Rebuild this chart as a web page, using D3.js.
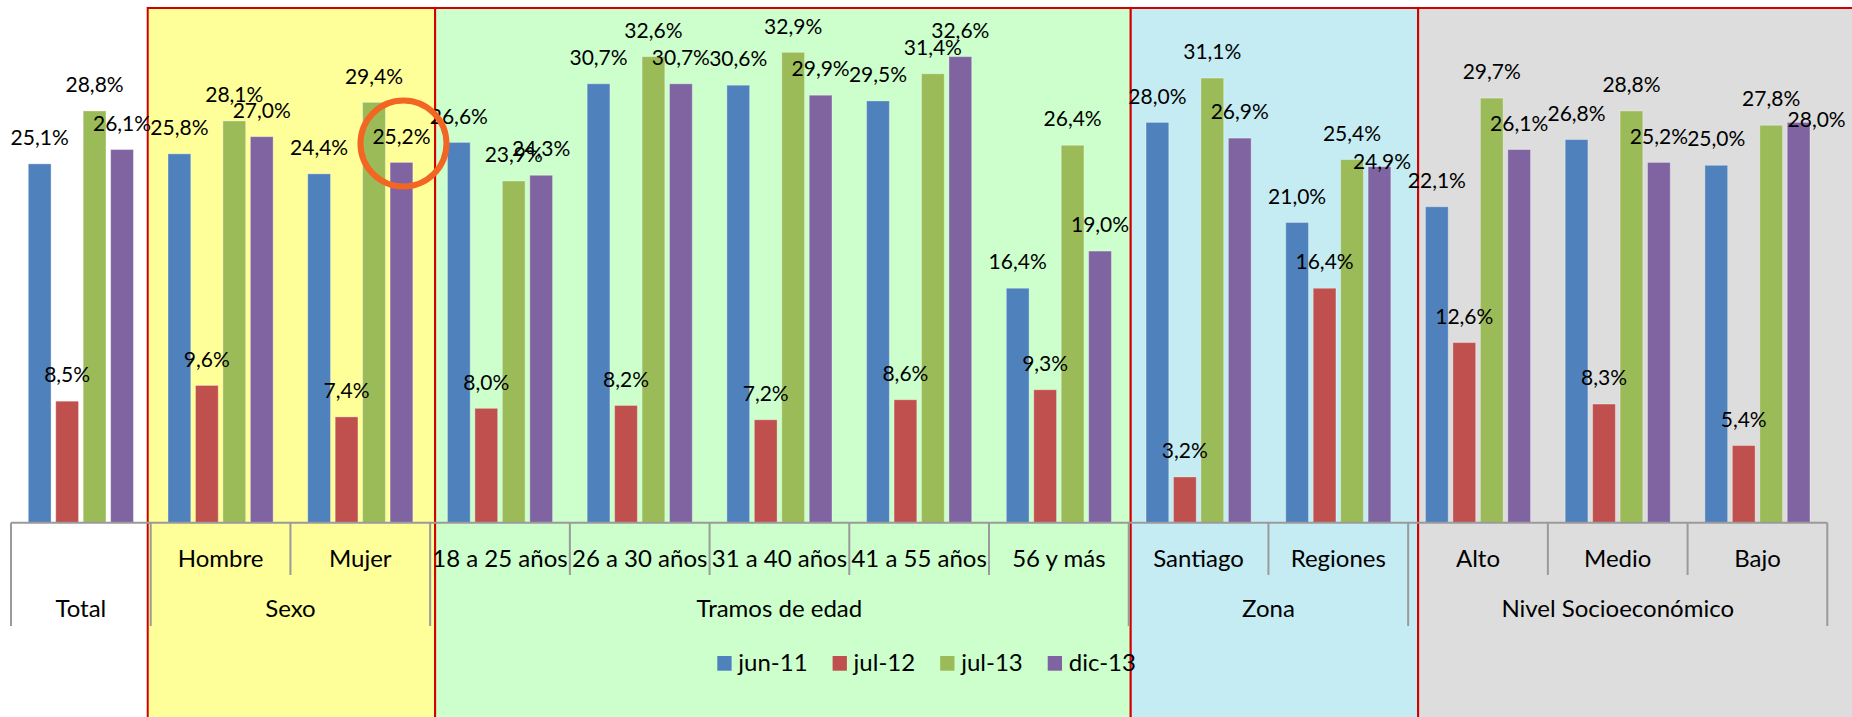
<!doctype html>
<html lang="es">
<head>
<meta charset="utf-8" />
<title>Resultados por segmento</title>
<script src="https://cdn.jsdelivr.net/npm/d3@7"></script>
<style>
	body { margin: 0; background: #fff; }
	svg { display: block; }
	text { font-family: Lato, "Open Sans", sans-serif; fill: #000; }
</style>
</head>
<body>
<script>
var w = 1852;
var h = 717;

// eje de categorias (nivel 1) y sus agrupaciones (nivel 2)
var categories = ["Total", "Hombre", "Mujer", "18 a 25 años", "26 a 30 años", "31 a 40 años", "41 a 55 años", "56 y más", "Santiago", "Regiones", "Alto", "Medio", "Bajo"];
var groupNames = ["Total", "Sexo", "Tramos de edad", "Zona", "Nivel Socioeconómico"];
var groupSizes = [1, 2, 5, 2, 3];

// series (porcentajes)
var seriesNames = ["jun-11", "jul-12", "jul-13", "dic-13"];
var jun11 = [25.1, 25.8, 24.4, 26.6, 30.7, 30.6, 29.5, 16.4, 28.0, 21.0, 22.1, 26.8, 25.0];
var jul12 = [8.5, 9.6, 7.4, 8.0, 8.2, 7.2, 8.6, 9.3, 3.2, 16.4, 12.6, 8.3, 5.4];
var jul13 = [28.8, 28.1, 29.4, 23.9, 32.6, 32.9, 31.4, 26.4, 31.1, 25.4, 29.7, 28.8, 27.8];
var dic13 = [26.1, 27.0, 25.2, 24.3, 30.7, 29.9, 32.6, 19.0, 26.9, 24.9, 26.1, 25.2, 28.0];

var colors = ["#4F81BD", "#C0504D", "#9BBB59", "#8064A2"];

// fondos de color detras de cada grupo (dx = corrimiento del borde a mano)
var panels = [
	{ from: 1, to: 2, fill: "#FFFF99", dx0: -3, dx1: 5 },
	{ from: 3, to: 7, fill: "#CCFFCC", dx0: 5, dx1: 2 },
	{ from: 8, to: 9, fill: "#C5ECF2", dx0: 2, dx1: 10 },
	{ from: 10, to: 12, fill: "#DDDDDD", dx0: 10, dx1: null }
];

// etiquetas que en el original quedaron movidas
var labelNudges = [
	{ cat: 9, s: 3, dx: 2.5, dy: 21.3 },
	{ cat: 12, s: 3, dx: 18, dy: 23.6 }
];

var allSeries = [jun11, jul12, jul13, dic13];
var rows = [];
categories.forEach(function(c, i) {
	allSeries.forEach(function(arr, s) {
		rows.push({ cat: c, ci: i, s: s, value: arr[i] });
	});
});

var fmt = function(v) { return d3.format(".1f")(v).replace(".", ",") + "%"; };

var baseY = 522.7;
var x0 = d3.scaleBand().domain(categories).range([11, 1827.3]).padding(0);
var x1 = d3.scaleBand().domain(seriesNames).range([0, x0.bandwidth()])
	.paddingInner(0.17).paddingOuter(0.63);
var y = d3.scaleLinear().domain([0, 36]).range([baseY, 8]);

var svg = d3.select("body").append("svg")
	.attr("width", w)
	.attr("height", h);

// paneles de fondo
svg.selectAll("rect.panel")
	.data(panels)
	.enter()
	.append("rect")
	.attr("class", "panel")
	.attr("x", function(d) { return x0(categories[d.from]) + d.dx0; })
	.attr("y", 8)
	.attr("width", function(d) {
		var left = x0(categories[d.from]) + d.dx0;
		var right = d.dx1 === null ? w + 4 : x0(categories[d.to]) + x0.bandwidth() + d.dx1;
		return right - left;
	})
	.attr("height", h)
	.attr("fill", function(d) { return d.fill; })
	.attr("stroke", "#D20000")
	.attr("stroke-width", 2);

// barras
svg.selectAll("rect.bar")
	.data(rows)
	.enter()
	.append("rect")
	.attr("class", "bar")
	.attr("x", function(d) { return x0(d.cat) + x1(seriesNames[d.s]); })
	.attr("y", function(d) { return y(d.value); })
	.attr("width", x1.bandwidth())
	.attr("height", function(d) { return baseY - y(d.value); })
	.attr("fill", function(d) { return colors[d.s]; })
	.attr("stroke", "rgba(255,255,255,0.35)")
	.attr("stroke-width", 1);

// eje horizontal
svg.append("line")
	.attr("x1", x0.range()[0]).attr("x2", x0.range()[1])
	.attr("y1", baseY).attr("y2", baseY)
	.attr("stroke", "#9a9a9a")
	.attr("stroke-width", 2);

// marcas: todas bajan hasta el nivel 1, las de grupo hasta el nivel 2
var groupEdges = [0];
groupSizes.forEach(function(n, g) { groupEdges.push(groupEdges[g] + n); });
var edges = d3.range(categories.length + 1);
svg.selectAll("line.tick")
	.data(edges)
	.enter()
	.append("line")
	.attr("class", "tick")
	.attr("x1", function(k) { return x0.range()[0] + k * x0.step(); })
	.attr("x2", function(k) { return x0.range()[0] + k * x0.step(); })
	.attr("y1", baseY)
	.attr("y2", function(k) { return groupEdges.indexOf(k) >= 0 ? 626 : 575; })
	.attr("stroke", "#9a9a9a")
	.attr("stroke-width", 2);

// etiquetas nivel 1 (Total no tiene)
var groupOf = [];
groupSizes.forEach(function(n, g) { for (var i = 0; i < n; i++) groupOf.push(g); });
svg.selectAll("text.cat")
	.data(categories.filter(function(c, i) { return groupSizes[groupOf[i]] > 1; }))
	.enter()
	.append("text")
	.attr("class", "cat")
	.attr("x", function(d) { return x0(d) + x0.bandwidth() / 2; })
	.attr("y", 566.7)
	.attr("text-anchor", "middle")
	.attr("font-size", "24px")
	.text(function(d) { return d; });

// etiquetas nivel 2
svg.selectAll("text.group")
	.data(groupNames)
	.enter()
	.append("text")
	.attr("class", "group")
	.attr("x", function(d, g) {
		var a = groupEdges[g], b = groupEdges[g + 1];
		return x0.range()[0] + (a + b) / 2 * x0.step();
	})
	.attr("y", 617)
	.attr("text-anchor", "middle")
	.attr("font-size", "24px")
	.text(function(d) { return d; });

// etiquetas de datos
var nudge = function(d) {
	var n = labelNudges.filter(function(o) { return o.cat === d.ci && o.s === d.s; })[0];
	return n || { dx: 0, dy: 0 };
};
svg.selectAll("text.val")
	.data(rows)
	.enter()
	.append("text")
	.attr("class", "val")
	.attr("x", function(d) { return x0(d.cat) + x1(seriesNames[d.s]) + x1.bandwidth() / 2 + nudge(d).dx; })
	.attr("y", function(d) { return y(d.value) - 18.8 + nudge(d).dy; })
	.attr("text-anchor", "middle")
	.attr("font-size", "21px")
	.text(function(d) { return fmt(d.value); });

// leyenda
var legend = svg.append("g").attr("transform", "translate(717.3,0)");
var lx = 0;
seriesNames.forEach(function(name, s) {
	legend.append("rect")
		.attr("x", lx).attr("y", 656)
		.attr("width", 14.3).attr("height", 14.7)
		.attr("fill", colors[s]);
	var t = legend.append("text")
		.attr("x", lx + 21).attr("y", 670.5)
		.attr("font-size", "24px")
		.text(name);
	lx += 21 + t.node().getComputedTextLength() + 25;
});

// circulo naranja marcando dic-13 en Mujer
var mi = categories.indexOf("Mujer");
svg.append("circle")
	.attr("cx", x0("Mujer") + x1("dic-13") + x1.bandwidth() / 2 + 2)
	.attr("cy", y(dic13[mi]) - 19)
	.attr("r", 43)
	.attr("fill", "none")
	.attr("stroke", "#F26522")
	.attr("stroke-width", 6);
</script>
</body>
</html>
